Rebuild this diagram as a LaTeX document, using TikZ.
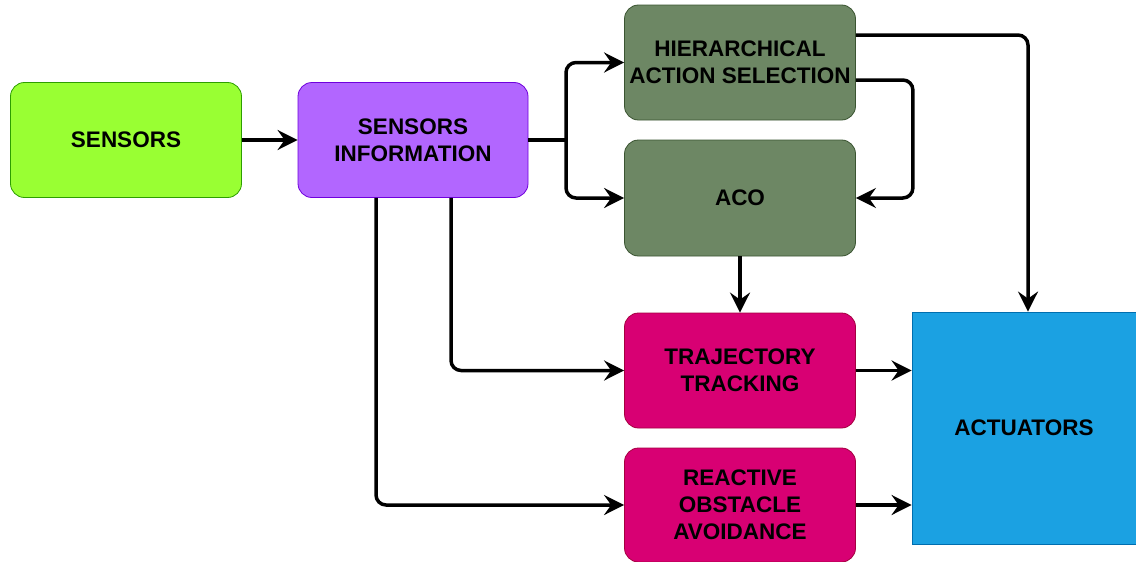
\documentclass[tikz,border=0pt]{standalone}
\usepackage{fontspec}
\setmainfont{Liberation Sans}
\usetikzlibrary{arrows.meta}

\definecolor{sensgreen}{HTML}{99FF33}
\definecolor{sensgreenline}{HTML}{2D9E00}
\definecolor{infopurple}{HTML}{B266FF}
\definecolor{infopurpleline}{HTML}{7000DD}
\definecolor{planfill}{HTML}{6D8764}
\definecolor{planline}{HTML}{3A5431}
\definecolor{ctrlfill}{HTML}{D80073}
\definecolor{ctrlline}{HTML}{A50040}
\definecolor{actfill}{HTML}{1BA1E2}
\definecolor{actline}{HTML}{006EAF}

\begin{document}
\begin{tikzpicture}[
        x=1pt, y=-1pt,
        blockbox/.style={rectangle, rounded corners=14pt, thick, minimum width=231pt, minimum height=115pt, align=center, font=\fontsize{22.5}{27}\selectfont\bfseries},
        arr/.style={line width=3.5pt, rounded corners=10pt, -{Stealth[length=20pt, width=20pt, inset=7pt]}},
    ]
        \useasboundingbox (0,0) rectangle (1136,562);

        %Nodes
        \node[blockbox, fill=sensgreen, draw=sensgreenline] (sensors) at (126,140) {SENSORS};
        \node[blockbox, fill=infopurple, draw=infopurpleline, minimum width=230pt] (sinfo) at (413,140) {SENSORS\\INFORMATION};

        \node[blockbox, fill=planfill, draw=planline] (has) at (740,62.5) {HIERARCHICAL\\ACTION SELECTION};
        \node[blockbox, fill=planfill, draw=planline, minimum height=116pt] (aco) at (740,198) {ACO};

        \node[blockbox, fill=ctrlfill, draw=ctrlline] (traj) at (740,370.5) {TRAJECTORY\\TRACKING};
        \node[blockbox, fill=ctrlfill, draw=ctrlline, minimum height=114pt] (roa) at (740,505) {REACTIVE\\OBSTACLE\\AVOIDANCE};

        \node[blockbox, rounded corners=0pt, fill=actfill, draw=actline, minimum width=224pt, minimum height=232pt] (act) at (1024,428) {ACTUATORS};

        \coordinate (split) at (566,140);

        %Lines
        \draw[arr] (sensors) -- (sinfo);
        \draw[line width=3.5pt] (sinfo.east) -- (split);
        \draw[arr] (split) |- (has.west);
        \draw[arr] (split) |- (aco.west);

        \draw[arr] ([yshift=27.5pt]has.east) -| ([xshift=4pt]act.north);
        \draw[arr] ([yshift=-17.5pt]has.east) -- ++(57,0) |- (aco.east);
        \draw[arr] (aco) -- (traj);

        \draw[arr] ([xshift=38pt]sinfo.south) |- (traj.west);
        \draw[arr] ([xshift=-37pt]sinfo.south) |- (roa.west);

        \draw[arr] (traj.east) -- (traj.east -| act.west);
        \draw[arr] (roa.east) -- (roa.east -| act.west);
    \end{tikzpicture}
\end{document}
